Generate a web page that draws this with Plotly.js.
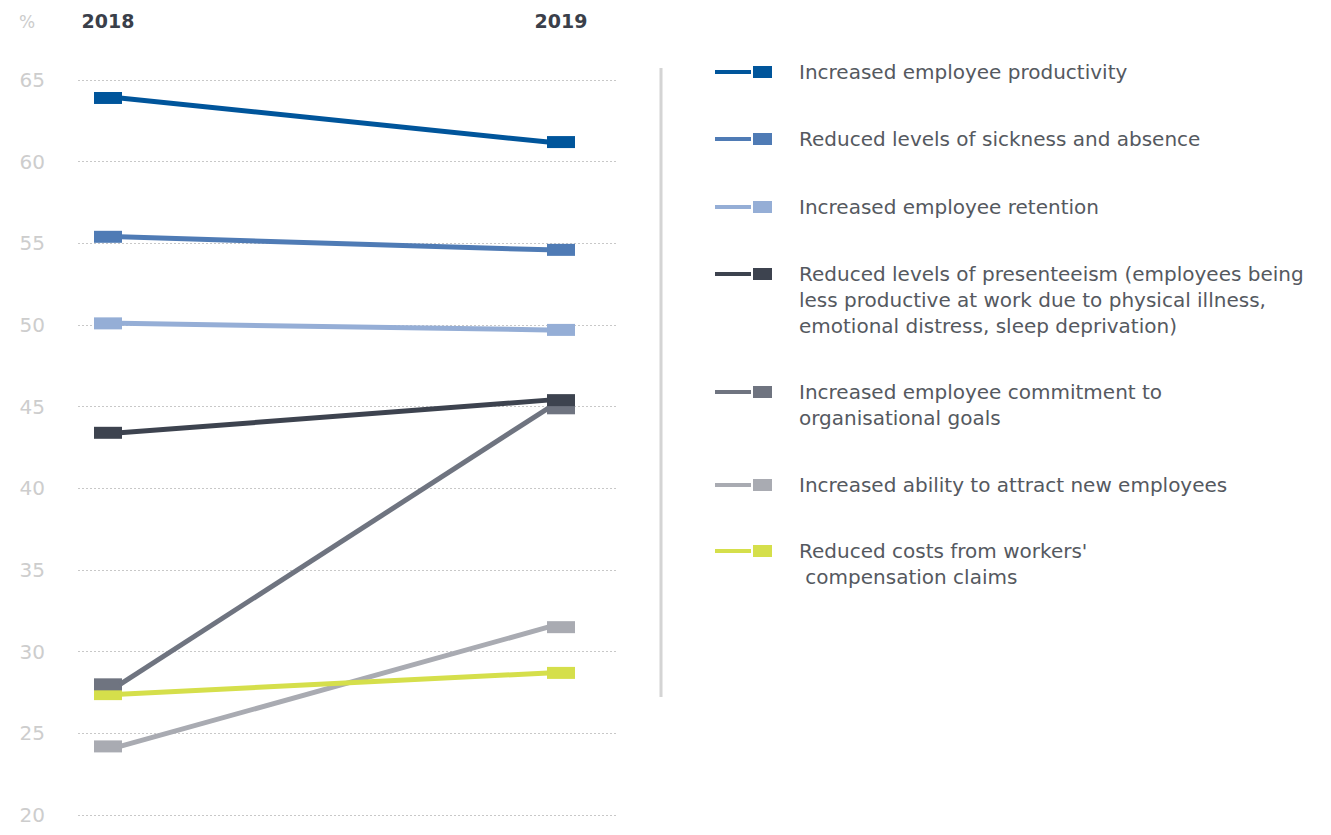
<!DOCTYPE html>
<html>
<head>
<meta charset="utf-8">
<script src="https://cdn.plot.ly/plotly-3.0.1.min.js"></script>
<style>html,body{margin:0;padding:0;background:#fff;}#chart{width:1331px;height:835px;}</style>
</head>
<body>
<div id="chart"></div>
<script>
// ---- data ----
var years = ['2018', '2019'];
var seriesNames = [
  'Increased employee productivity',
  'Reduced levels of sickness and absence',
  'Increased employee retention',
  'Reduced levels of presenteeism (employees being<br>less productive at work due to physical illness,<br>emotional distress, sleep deprivation)',
  'Increased employee commitment to<br>organisational goals',
  'Increased ability to attract new employees',
  'Reduced costs from workers\'<br> compensation claims'
];
var values2018 = [63.9, 55.4, 50.1, 43.4, 28.0, 24.2, 27.4];
var values2019 = [61.2, 54.6, 49.7, 45.4, 44.9, 31.5, 28.7];
var seriesColors = ['#00559b', '#4f7bb5', '#95aed6', '#3d434f', '#6f7480', '#a9abb2', '#d5df4b'];
var yTicks = [20, 25, 30, 35, 40, 45, 50, 55, 60, 65];

// ---- layout geometry (pixels) ----
var W = 1331, Hh = 835;
var L = 78, R = 617, T = 64, B = 823;
var pw = R - L, ph = B - T;
function px(x) { return (x - L) / pw; }
function py(y) { return 1 - (y - T) / ph; }
var FONT = '"DejaVu Sans", "Open Sans", sans-serif';
var LEGFONT = '"DejaVu Sans", "Open Sans", sans-serif';

var xv = [0, 1];
var traces = [];
// lines (on overlaying axis so they stop short of the end markers)
for (var i = 0; i < seriesNames.length; i++) {
  traces.push({
    x: xv, y: [values2018[i], values2019[i]],
    xaxis: 'x2', yaxis: 'y',
    mode: 'lines', line: {color: seriesColors[i], width: 5},
    showlegend: false, hoverinfo: 'skip'
  });
}
// rectangular end markers (drawn in reverse so first series on top)
for (var j = seriesNames.length - 1; j >= 0; j--) {
  traces.push({
    x: xv, y: [values2018[j], values2019[j]],
    xaxis: 'x', yaxis: 'y',
    mode: 'markers', name: seriesNames[j],
    marker: {symbol: 'line-ew', size: 20, color: seriesColors[j],
             line: {color: seriesColors[j], width: 12}},
    showlegend: false,
    hovertemplate: '%{y}%<extra></extra>'
  });
}

// custom legend
var shapes = [];
var annotations = [];
var legendY = [72, 139, 207, 274, 392, 485, 551];
for (var k = 0; k < seriesNames.length; k++) {
  var yk = legendY[k];
  shapes.push({type: 'line', xref: 'paper', yref: 'paper',
    x0: px(715), x1: px(751), y0: py(yk), y1: py(yk),
    line: {color: seriesColors[k], width: 4}});
  shapes.push({type: 'rect', xref: 'paper', yref: 'paper',
    x0: px(753), x1: px(772), y0: py(yk - 6), y1: py(yk + 6),
    fillcolor: seriesColors[k], line: {width: 0}});
  var lines = seriesNames[k].split('<br>');
  for (var m = 0; m < lines.length; m++) {
    annotations.push({xref: 'paper', yref: 'paper', x: px(797), y: py(yk + m * 26),
      xanchor: 'left', yanchor: 'middle', showarrow: false,
      text: lines[m].replace(/^ /, '&nbsp;'),
      font: {family: LEGFONT, size: 20, color: '#55595f'}});
  }
}
// vertical divider
shapes.push({type: 'line', xref: 'paper', yref: 'paper',
  x0: px(661), x1: px(661), y0: py(68), y1: py(697),
  line: {color: '#d4d4d4', width: 3}});
// % unit label
annotations.push({xref: 'paper', yref: 'paper', x: px(27), y: py(22),
  xanchor: 'center', yanchor: 'middle', showarrow: false, text: '%',
  font: {family: FONT, size: 17, color: '#cccccc'}});

function rangeFor(c0, c1) {
  var s = c1 - c0;
  return [(L - c0) / s, (R - c0) / s];
}

var layout = {
  width: W, height: Hh,
  margin: {l: L, r: W - R, t: T, b: Hh - B, pad: 0},
  paper_bgcolor: '#ffffff', plot_bgcolor: '#ffffff',
  showlegend: false,
  xaxis: {
    range: rangeFor(108, 561), side: 'top',
    tickvals: xv, ticktext: years,
    showgrid: false, zeroline: false, showline: false, ticks: '',
    ticklabelstandoff: 31,
    tickfont: {family: FONT, size: 19, color: '#3a3f4a', weight: 'bold'},
    fixedrange: true
  },
  xaxis2: {
    range: rangeFor(120, 548), overlaying: 'x', visible: false, fixedrange: true
  },
  yaxis: {
    range: [20 - 8 / 16.333, 65 + 16 / 16.333],
    tickvals: yTicks, ticks: '',
    showgrid: true, gridcolor: '#c8c8c8', gridwidth: 1, griddash: '2px,2px',
    zeroline: false, showline: false,
    ticklabelstandoff: 32,
    tickfont: {family: FONT, size: 20, color: '#cdcdcd'},
    fixedrange: true
  },
  shapes: shapes,
  annotations: annotations
};

Plotly.newPlot('chart', traces, layout, {displayModeBar: false, staticPlot: false});
</script>
</body>
</html>
